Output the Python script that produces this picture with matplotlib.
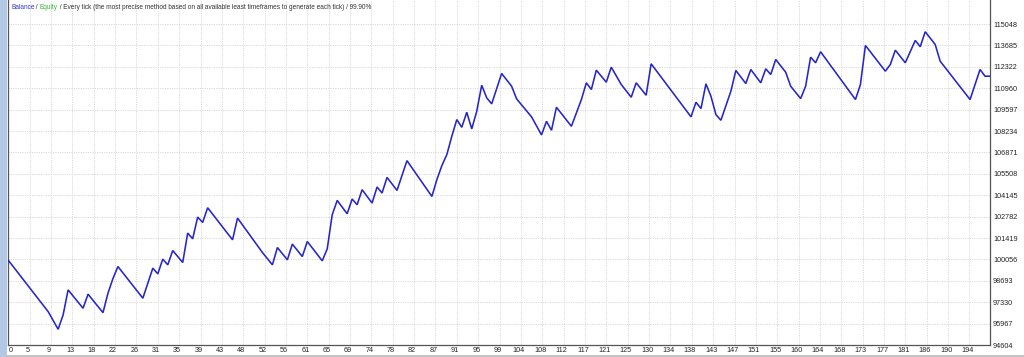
import matplotlib
matplotlib.use("Agg")
import matplotlib.pyplot as plt
import matplotlib.transforms as mtransforms
from matplotlib.patches import Rectangle

# ---------------- data ----------------
trade = [0, 8, 10, 11, 12, 15, 16, 19, 20, 21, 22, 27, 29, 30, 31, 32, 33, 35, 36, 37,
         38, 39, 40, 45, 46, 51, 53, 54, 56, 57, 59, 60, 63, 64, 65, 66, 68, 69, 70, 71,
         73, 74, 75, 76, 78, 80, 85, 86, 87, 88, 89, 90, 91, 92, 93, 94, 95, 96, 97, 99,
         101, 102, 105, 107, 108, 109, 110, 113, 115, 116, 117, 118, 120, 121, 123, 125,
         126, 128, 129, 137, 138, 139, 140, 141, 142, 143, 145, 146, 148, 149, 151, 152,
         153, 154, 156, 157, 159, 160, 161, 162, 163, 170, 171, 172, 176, 177, 178, 180,
         182, 183, 184, 186, 187, 193, 195, 196, 197]
balance = [100000, 96729, 95606, 96518, 98114, 96946, 97839, 96665, 97903, 98835, 99601,
           97584, 99498, 99135, 100073, 99709, 100621, 99856, 101732, 101368, 102752,
           102408, 103346, 101304, 102689, 100494, 99709, 100813, 100028, 101030, 100238,
           101196, 99964, 100730, 102899, 103812, 102963, 103901, 103537, 104495, 103646,
           104667, 104284, 105279, 104450, 106345, 104067, 105133, 106026, 106728, 107896,
           108961, 108470, 109427, 108368, 109491, 111150, 110346, 109963, 111897, 111086,
           110282, 109134, 107985, 108853, 108279, 109746, 108534, 110237, 111303, 110876,
           112107, 111341, 112299, 111195, 110384, 111303, 110512, 112515, 109134, 110065,
           109663, 111239, 110448, 109280, 108917, 110767, 112088, 111258, 112152, 111303,
           112196, 111833, 112790, 111979, 111086, 110301, 111086, 112937, 112579, 113281,
           110237, 111195, 113683, 112043, 112471, 113383, 112579, 114002, 113600, 114557,
           113747, 112681, 110237, 112152, 111724, 111724]
x_labels = ['0', '5', '9', '13', '18', '22', '26', '31', '35', '39', '43', '48', '52', '56',
            '61', '65', '69', '74', '78', '82', '87', '91', '95', '99', '104', '108', '112',
            '117', '121', '125', '130', '134', '138', '143', '147', '151', '155', '160',
            '164', '168', '173', '177', '181', '186', '190', '194']
y_ticks = [94604, 95967, 97330, 98693, 100056, 101419, 102782, 104145, 105508, 106871,
           108234, 109597, 110960, 112322, 113685, 115048]
title_parts = [("Balance", "#3535cc"), (" / ", "#333333"), ("Equity", "#33bb33"),
               (" / Every tick (the most precise method based on all available least "
                "timeframes to generate each tick) / 99.90%", "#333333")]

# ---------------- layout ----------------
W, H = 1024, 357
fig = plt.figure(figsize=(W / 100, H / 100), dpi=100)
fig.patch.set_facecolor("white")
L, R, B, T = 8, 990, 345, 0
ax = fig.add_axes([L / W, (H - B) / H, (R - L) / W, (B - T) / H])
ax.set_facecolor("white")

FONT = "Liberation Sans"
cell_px = 21.36
xmax = trade[-1]
px_per_trade = (R - 8.3) / xmax
xmin = -(8.3 - L) / px_per_trade
ax.set_xlim(xmin, xmax)
ystep = y_ticks[1] - y_ticks[0]
ymax = y_ticks[0] + (B - T) / 21.4 * ystep
ax.set_ylim(y_ticks[0], ymax)

xstep = cell_px / px_per_trade
xticks = [k * xstep for k in range(len(x_labels))]
ax.set_xticks(xticks)
ax.set_xticklabels(x_labels, fontsize=5.2, family=FONT, color="#222222")
ax.set_yticks(y_ticks)
ax.set_yticklabels([str(v) for v in y_ticks], fontsize=5.2, family=FONT, color="#222222")
ax.yaxis.tick_right()
ax.tick_params(axis="x", length=0, pad=1.6)
ax.tick_params(axis="y", length=0, pad=2.2)
off = mtransforms.ScaledTranslation(-2 / 100, 0, fig.dpi_scale_trans)
for i, lab in enumerate(ax.get_xticklabels()):
    if i == 0:
        lab.set_ha("left")
    else:
        lab.set_transform(lab.get_transform() + off)

ax.grid(True, color="#d9d9d9", linestyle=(0, (1.2, 1.2)), linewidth=0.7)
ax.set_axisbelow(True)
for s in ("left", "bottom", "right"):
    ax.spines[s].set_color("#555555")
    ax.spines[s].set_linewidth(0.9)
ax.spines["top"].set_visible(False)

ax.plot(trade, balance, color="#2626c8", linewidth=1.15, solid_joinstyle="miter",
        zorder=3)

# window chrome
fig.patches.append(Rectangle((0, 0), 7 / W, 1, transform=fig.transFigure,
                             facecolor="#b3c8e4", edgecolor="none", zorder=0))
fig.patches.append(Rectangle((5 / W, 0), 1 - 5 / W, 2.5 / H, transform=fig.transFigure,
                             facecolor="#c4c4c4", edgecolor="none", zorder=0))

# title with coloured pieces
fig.canvas.draw()
renderer = fig.canvas.get_renderer()
xpos = 11 / W
for txt, col in title_parts:
    t = fig.text(xpos, 1 - 7.5 / H, txt, color=col, fontsize=4.7, family=FONT,
                 va="center", ha="left")
    bb = t.get_window_extent(renderer)
    xpos = bb.x1 / W

fig.savefig("out.png", dpi=100, facecolor="white")
